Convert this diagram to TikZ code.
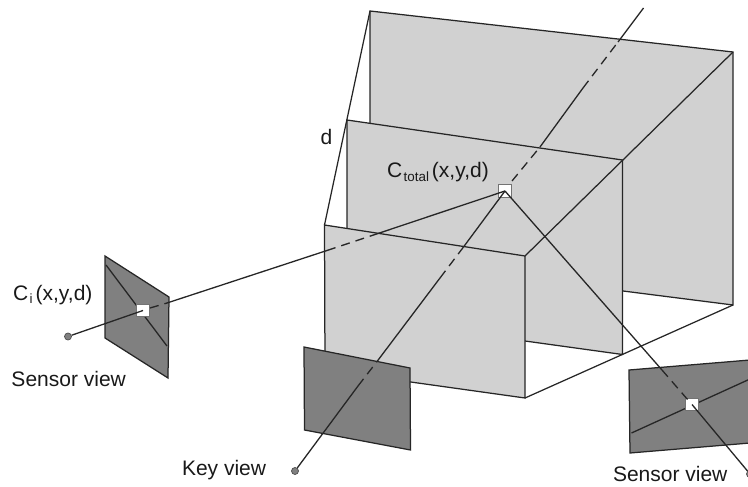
\documentclass[tikz,border=0pt]{standalone}
\usepackage{fontspec}
\setmainfont{Liberation Sans}
\tikzset{
  edge/.style={draw=black!85,line width=1.25pt,line join=miter},
  plane/.style={fill=black!18,edge},
  sensor/.style={fill=black!50,edge},
  ray/.style={draw=black!85,line width=1.3pt},
  dashray/.style={ray,dash pattern=on 9pt off 6pt},
  marker/.style={draw=black!55,fill=white,line width=1pt,minimum size=12.5pt,inner sep=0pt,outer sep=0pt},
  viewdot/.style={circle,draw=black!70,fill=black!50,line width=0.7pt,minimum size=7pt,inner sep=0pt},
  lbl/.style={anchor=base west,inner sep=0pt,outer sep=0pt,text=black!90,font=\fontsize{21}{24}\selectfont}
}
\newcommand{\subsz}[1]{\kern1.5pt\raisebox{-3.5pt}{\fontsize{13.4}{14}\selectfont #1}\kern3pt}
\begin{document}
\begin{tikzpicture}[x=1pt,y=-1pt]
\useasboundingbox (0,0) rectangle (748,487);
\clip (0,0) rectangle (748,487);
% planes
\coordinate (bTL) at (370,11); \coordinate (bTR) at (733,52);
\coordinate (bBR) at (733,305); \coordinate (bBL) at (623,291);
\coordinate (mTL) at (347,120); \coordinate (mTR) at (622.5,160);
\coordinate (mBR) at (622.5,354.5); \coordinate (mBL) at (525,341);
\coordinate (mLL) at (347,240);
\coordinate (fTL) at (324.5,225); \coordinate (fTR) at (525,256);
\coordinate (fBR) at (525,398); \coordinate (fBL) at (325,370);
\path[plane] (bTL) -- (bTR) -- (bBR) -- (bBL) -- (370,280) -- cycle;
\path[plane] (mTL) -- (mTR) -- (mBR) -- (mBL) -- (mLL) -- cycle;
\path[plane] (fTL) -- (fTR) -- (fBR) -- (fBL) -- cycle;
% depth lines
\draw[edge] (fTL) -- (bTL);
\draw[edge] (fTR) -- (bTR);
\draw[edge] (fBR) -- (bBR);
% key view plate
\path[sensor] (304,347) -- (410,368) -- (410.5,450) -- (304.5,430) -- cycle;
% left sensor
\path[sensor] (105,256) -- (169,297) -- (168,378) -- (105,338) -- cycle;
\coordinate (lA) at (106,265); \coordinate (lB) at (167,346);
\draw[ray] (lA) -- (lB);
% right sensor
\path[sensor] (629,370) -- (750,360) -- (750,443) -- (630,453) -- cycle;
\coordinate (rA) at (631.5,433); \coordinate (rB) at (750,379);
\draw[ray] (rA) -- (rB);
% markers
\node[marker] (sqC) at (505,191) {};
\node[marker] (sqL) at (143,310.5) {};
\node[marker] (sqR) at (692,404.5) {};
\node[viewdot] (dotL) at (68,336.5) {};
\node[viewdot] (dotK) at (295,471) {};
\node[viewdot] (dotR) at (750,474) {};
% ray from left sensor
\coordinate (l1) at (150,308); \coordinate (l2) at (167,303);
\coordinate (l3) at (327,250.5); \coordinate (l4) at (375,234.5);
\draw[ray] (dotL) -- (sqL.center);
\draw[dashray] (l1) -- (l2);
\draw[ray] (l2) -- (l3);
\draw[dashray] (l3) -- (l4);
\draw[ray] (l4) -- (sqC.center);
% ray from key view
\coordinate (k1) at (358,386); \coordinate (k2) at (377,361.5);
\coordinate (k3) at (440,278); \coordinate (k4) at (462,249);
\coordinate (k5) at (512,181); \coordinate (k6) at (540,147);
\coordinate (k7) at (583,88); \coordinate (k8) at (618,42);
\coordinate (kEnd) at (643.5,8);
\draw[ray] (dotK) -- (k1);
\draw[dashray] (k1) -- (k2);
\draw[ray] (k2) -- (k3);
\draw[dashray] (k3) -- (k4);
\draw[ray] (k4) -- (sqC.center);
\draw[dashray] (k5) -- (k6);
\draw[ray] (k6) -- (k7);
\draw[dashray] (k7) -- (k8);
\draw[ray] (k8) -- (kEnd);
% ray from right sensor
\coordinate (r1) at (662,370); \coordinate (r2) at (688,400);
\draw[ray] (sqC.center) -- (r1);
\draw[dashray] (r1) -- (r2);
\draw[ray] (sqR.center) -- (dotR);
% labels
\node[lbl] (tD) at (320.5,144) {d};
\node[lbl] (tC) at (387,178) {C\subsz{total}(x,y,d)};
\node[lbl] (tI) at (13,300) {C\subsz{i}(x,y,d)};
\node[lbl] (tSL) at (11.5,386) {Sensor view};
\node[lbl] (tK) at (182,475) {Key view};
\node[lbl] (tSR) at (613,481) {Sensor view};
\end{tikzpicture}
\end{document}
